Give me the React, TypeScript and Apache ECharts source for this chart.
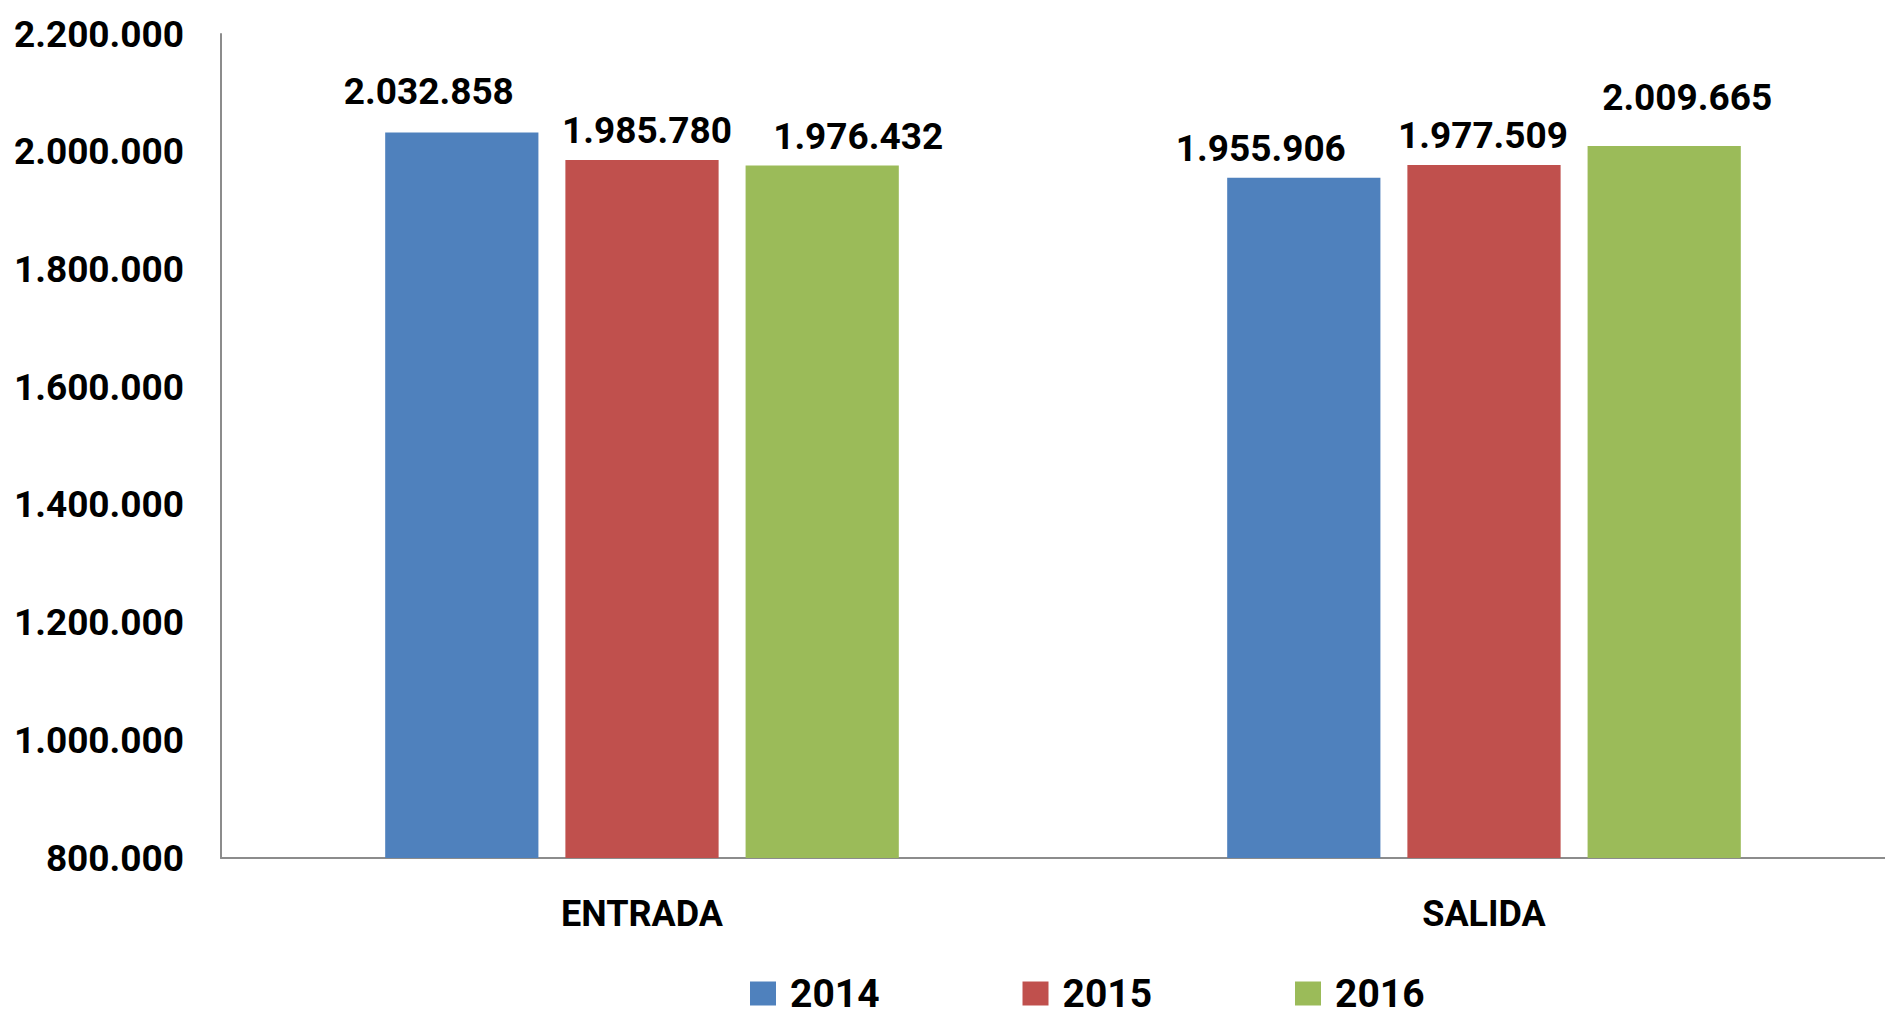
import React, { useEffect, useRef } from "react";
import * as echarts from "echarts";

const categories = ["ENTRADA", "SALIDA"];
const seriesNames = ["2014", "2015", "2016"];
const values2014 = [2032858, 1955906];
const values2015 = [1985780, 1977509];
const values2016 = [1976432, 2009665];
const yMin = 800000;
const yMax = 2200000;
const yStep = 200000;

const colors = ["#4F81BD", "#C0504D", "#9BBB59"];
// manual label nudges (pixels) per series, per category
const labelNudges = [
  [[-33, -11], [-43, 0]],
  [[5, 0], [-1, 0]],
  [[36, 0], [23, -19]],
];

const FONT = "Roboto";
const fmt = (v: number) => String(v).replace(/\B(?=(\d{3})+(?!\d))/g, ".");

export default function App() {
  const ref = useRef<HTMLDivElement>(null);
  useEffect(() => {
    if (!ref.current) return;
    const chart = echarts.init(ref.current, undefined, { renderer: "svg" });
    const allValues = [values2014, values2015, values2016];
    chart.setOption({
      animation: false,
      backgroundColor: "#ffffff",
      textStyle: { fontFamily: FONT },
      grid: { left: 221, right: -20, top: 34, bottom: 157, outerBoundsMode: "none" },
      legend: {
        data: seriesNames,
        left: 745,
        top: 969,
        itemWidth: 26,
        itemHeight: 24,
        itemGap: 143,
        icon: "rect",
        textStyle: {
          fontFamily: FONT,
          fontWeight: "bold",
          fontSize: 39,
          lineHeight: 38,
          color: "#000",
          padding: [0, 0, 0, 9],
        },
      },
      xAxis: {
        type: "category",
        data: categories,
        axisLine: { lineStyle: { color: "#8c8c8c", width: 2 } },
        axisTick: { show: false },
        axisLabel: { margin: 38, fontFamily: FONT, fontWeight: "bold", fontSize: 36, color: "#000" },
      },
      yAxis: {
        type: "value",
        min: yMin,
        max: yMax,
        interval: yStep,
        axisLine: { show: true, lineStyle: { color: "#8c8c8c", width: 2 } },
        axisTick: { show: false },
        splitLine: { show: false },
        axisLabel: {
          margin: 37,
          fontFamily: FONT,
          fontWeight: "bold",
          fontSize: 37,
          color: "#000",
          formatter: (v: number) => fmt(v),
        },
      },
      series: seriesNames.map((name, si) => ({
        name,
        type: "bar",
        barGap: "17.6%",
        barCategoryGap: "39%",
        itemStyle: { color: colors[si] },
        data: allValues[si].map((v, ci) => ({
          value: v,
          label: { offset: labelNudges[si][ci] },
        })),
        label: {
          show: true,
          position: "top",
          distance: 11,
          fontFamily: FONT,
          fontWeight: "bold",
          fontSize: 37,
          color: "#000",
          formatter: (p: any) => fmt(p.value),
        },
      })),
    });
    return () => chart.dispose();
  }, []);
  return (
    <div
      ref={ref}
      style={{ position: "fixed", left: 0, top: 0, width: 1885, height: 1015 }}
    />
  );
}
